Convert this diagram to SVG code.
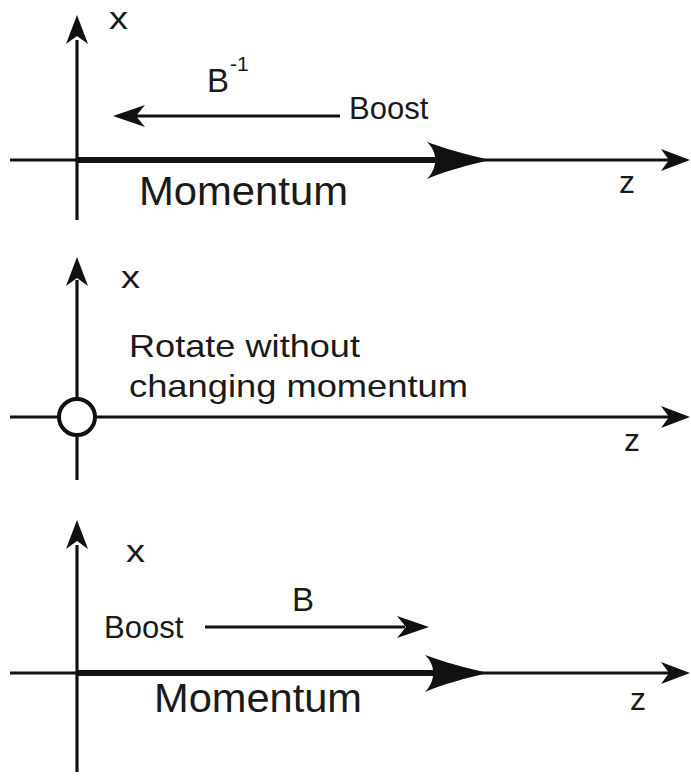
<svg xmlns="http://www.w3.org/2000/svg" xmlns:xlink="http://www.w3.org/1999/xlink" width="691" height="783" viewBox="0 0 691 783">
<style>
.ax{stroke:#111;stroke-width:3.2;fill:none}
.mom{stroke:#111;stroke-width:6;fill:none}
.bst{stroke:#111;stroke-width:3.2;fill:none}
.hd{fill:#111}
text{font-family:"Liberation Sans","Open Sans",Arial,sans-serif;fill:#1a1a1a}
.lbl{font-size:32px}
.bl{font-size:33px}
.mt{font-size:40px}
.bt{font-size:31px}
.rt{font-size:32px}
</style>
<defs>
<path id="ah" d="M0,0 L-29,-11 L-21,0 L-29,11 Z"/>
<path id="big" d="M0,0 C-22,-5 -44,-11 -63,-18 C-52,-8 -52,8 -63,19 C-44,11 -22,5 0,0 Z"/>
<path id="sh" d="M0,0 L-32,-11 L-23,0 L-32,11 Z"/>
</defs>

<g id="panel1">
  <g id="connectors1">
    <line class="ax" x1="77" y1="40" x2="77" y2="220"/>
    <use href="#ah" class="hd" transform="translate(77,15) rotate(-90)"/>
    <line class="ax" x1="10" y1="160" x2="670" y2="160"/>
    <use href="#ah" class="hd" transform="translate(690,160)"/>
    <line class="mom" x1="77" y1="160" x2="450" y2="160"/>
    <use href="#big" class="hd" transform="translate(490,160)"/>
    <line class="bst" x1="340" y1="116" x2="135" y2="116"/>
    <use href="#sh" class="hd" transform="translate(113,116) rotate(180)"/>
  </g>
  <g id="labels1">
    <text class="lbl" x="109" y="29" textLength="19" lengthAdjust="spacingAndGlyphs">x</text>
    <text class="bl" x="207" y="92">B</text>
    <text x="230" y="71" style="font-size:21px">-1</text>
    <text class="bt" x="349" y="119">Boost</text>
    <text class="mt" x="139" y="205" textLength="209" lengthAdjust="spacingAndGlyphs">Momentum</text>
    <text class="lbl" x="619" y="193">z</text>
  </g>
</g>

<g id="panel2">
  <g id="connectors2">
    <line class="ax" x1="77" y1="280" x2="77" y2="399"/>
    <use href="#ah" class="hd" transform="translate(77,257) rotate(-90)"/>
    <line class="ax" x1="77" y1="435" x2="77" y2="480"/>
    <line class="ax" x1="10" y1="417" x2="59" y2="417"/>
    <line class="ax" x1="95" y1="417" x2="670" y2="417"/>
    <use href="#ah" class="hd" transform="translate(690,417)"/>
  </g>
  <g id="origin">
    <circle cx="77" cy="417" r="18" fill="#fff" stroke="#111" stroke-width="4"/>
  </g>
  <g id="labels2">
    <text class="lbl" x="121" y="288" textLength="19" lengthAdjust="spacingAndGlyphs">x</text>
    <text class="rt" x="129" y="357" textLength="231" lengthAdjust="spacingAndGlyphs">Rotate without</text>
    <text class="rt" x="129" y="397" textLength="339" lengthAdjust="spacingAndGlyphs">changing momentum</text>
    <text class="lbl" x="624" y="451">z</text>
  </g>
</g>

<g id="panel3">
  <g id="connectors3">
    <line class="ax" x1="77" y1="545" x2="77" y2="772"/>
    <use href="#ah" class="hd" transform="translate(77,520) rotate(-90)"/>
    <line class="ax" x1="10" y1="673" x2="670" y2="673"/>
    <use href="#ah" class="hd" transform="translate(690,673)"/>
    <line class="mom" x1="77" y1="673" x2="450" y2="673"/>
    <use href="#big" class="hd" transform="translate(488,673)"/>
    <line class="bst" x1="205" y1="627" x2="405" y2="627"/>
    <use href="#sh" class="hd" transform="translate(429,627)"/>
  </g>
  <g id="labels3">
    <text class="lbl" x="126" y="562" textLength="19" lengthAdjust="spacingAndGlyphs">x</text>
    <text class="bl" x="292" y="611">B</text>
    <text class="bt" x="104" y="638">Boost</text>
    <text class="mt" x="154" y="712" textLength="208" lengthAdjust="spacingAndGlyphs">Momentum</text>
    <text class="lbl" x="630" y="710">z</text>
  </g>
</g>
</svg>
